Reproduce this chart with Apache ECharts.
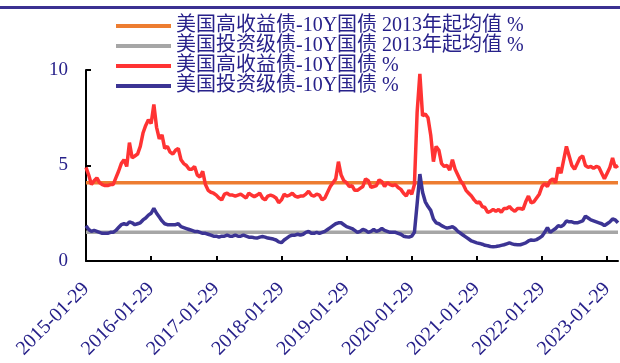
<!DOCTYPE html>
<html>
<head>
<meta charset="utf-8">
<script src="https://cdn.jsdelivr.net/npm/echarts@6/dist/echarts.min.js"></script>
<style>
  html, body { margin: 0; padding: 0; background: #fff; }
  #chart { width: 620px; height: 363px; }
</style>
</head>
<body>
<div id="chart"></div>
<script>
// 半月一个点，从 2015-01-29 起
const seriesNames = [
  '美国高收益债-10Y国债 2013年起均值 %',
  '美国投资级债-10Y国债 2013年起均值 %',
  '美国高收益债-10Y国债 %',
  '美国投资级债-10Y国债 %'
]

const hyAvg = 4.1
const igAvg = 1.5

const hyData = [
  4.9, 4.5, 4.0, 4.2, 4.35, 4.1, 4.0, 3.95, 3.95, 4.0,
  4.0, 4.35, 4.7, 5.1, 5.3, 4.95, 6.2, 5.4, 5.5, 5.6,
  6.0, 6.7, 7.1, 7.4, 7.2, 8.2, 7.0, 6.4, 6.6, 5.9,
  6.0, 5.7, 5.6, 5.8, 5.9, 5.3, 5.1, 5.0, 4.8, 4.8,
  4.95, 4.5, 4.4, 4.7, 4.0, 3.7, 3.6, 3.55, 3.45, 3.3,
  3.2, 3.5, 3.55, 3.45, 3.45, 3.4, 3.45, 3.5, 3.4, 3.3,
  3.55, 3.45, 3.37, 3.45, 3.55, 3.3, 3.2, 3.4, 3.45, 3.4,
  3.3, 3.05, 3.2, 3.5, 3.4, 3.45, 3.55, 3.4, 3.35, 3.4,
  3.4, 3.5, 3.65, 3.45, 3.4, 3.5, 3.45, 3.2, 3.3, 3.6,
  3.9, 4.1, 4.3, 5.2, 4.5, 4.2, 4.1, 3.9, 3.95, 3.7,
  3.7, 3.8, 3.9, 4.3, 4.2, 3.85, 3.9, 3.95, 4.25, 4.15,
  3.9, 4.1, 4.0, 3.95, 4.0, 3.85, 3.75, 3.55, 3.4, 3.7,
  3.5, 4.0, 7.8, 9.8, 7.6, 7.7, 7.5, 6.6, 5.2, 6.0,
  5.8, 5.1, 4.95, 5.0, 4.76, 5.3, 4.8, 4.5, 4.2, 4.0,
  3.7, 3.55, 3.4, 3.2, 3.05, 3.1, 2.85, 2.8, 2.55, 2.6,
  2.7, 2.6, 2.7, 2.55, 2.75, 2.75, 2.85, 2.7, 2.6, 2.75,
  2.75, 2.7, 3.1, 3.4, 3.05, 3.1, 3.3, 3.5, 3.9, 4.05,
  3.9, 4.2, 4.3, 4.1, 4.9, 4.6, 5.3, 6.0, 5.5, 5.0,
  4.8, 5.1, 5.4, 5.5, 5.0, 4.9, 4.95, 4.85, 4.95, 4.9,
  4.6, 4.3, 4.6, 4.9, 5.4, 4.9, 5.0
]

const igData = [
  1.85, 1.65, 1.55, 1.6, 1.55, 1.5, 1.45, 1.45, 1.45, 1.5,
  1.5, 1.6, 1.75, 1.9, 1.95, 1.9, 2.05, 2.0, 1.9, 1.95,
  2.0, 2.15, 2.25, 2.4, 2.5, 2.75, 2.5, 2.3, 2.1, 1.95,
  1.9, 1.9, 1.9, 1.9, 1.95, 1.8, 1.75, 1.7, 1.65, 1.6,
  1.55, 1.55, 1.5, 1.45, 1.45, 1.4, 1.35, 1.3, 1.3, 1.25,
  1.3, 1.3, 1.35, 1.3, 1.3, 1.35, 1.3, 1.3, 1.35, 1.3,
  1.25, 1.25, 1.22, 1.2, 1.25, 1.28, 1.25, 1.2, 1.18, 1.15,
  1.1, 1.0, 0.96, 1.1, 1.2, 1.3, 1.35, 1.35, 1.4, 1.35,
  1.4, 1.5, 1.55, 1.45, 1.45, 1.5, 1.45, 1.5, 1.55, 1.65,
  1.75, 1.85, 1.95, 2.0, 2.0, 1.9, 1.8, 1.75, 1.7, 1.6,
  1.5, 1.55, 1.65, 1.6, 1.5, 1.55, 1.65, 1.55, 1.6, 1.7,
  1.6, 1.55, 1.5, 1.5, 1.5, 1.45, 1.4, 1.3, 1.27, 1.25,
  1.3, 1.5, 3.0, 4.55, 3.6, 3.1, 2.85, 2.65, 2.2, 2.0,
  1.95, 1.85, 1.78, 1.72, 1.75, 1.8, 1.7, 1.55, 1.45, 1.35,
  1.25, 1.15, 1.05, 1.0, 0.95, 0.92, 0.88, 0.82, 0.8, 0.76,
  0.75, 0.76, 0.78, 0.82, 0.85, 0.9, 0.95, 0.9, 0.86, 0.85,
  0.85, 0.9, 0.95, 1.05, 1.1, 1.08, 1.12, 1.2, 1.3, 1.5,
  1.75, 1.5, 1.6, 1.7, 1.85, 1.8, 1.9, 2.1, 2.05, 2.05,
  2.0, 2.0, 2.05, 2.1, 2.35, 2.25, 2.15, 2.1, 2.05, 2.0,
  1.95, 1.85, 1.95, 2.05, 2.2, 2.15, 2.0
]

const yTicks = [0, 5, 10]

// 日期类目
const pad = (n) => (n < 10 ? '0' + n : '' + n)
const dates = hyData.map((v, i) => {
  const d = new Date(2015, 0, 29 + Math.round((i * 365.25) / 24))
  return d.getFullYear() + '-' + pad(d.getMonth() + 1) + '-' + pad(d.getDate())
})

const textColor = '#27218a'
const fontFamily = "'Liberation Serif', 'Noto Sans CJK SC', serif"

const chart = echarts.init(document.getElementById('chart'))

const option = {
  animation: false,
  backgroundColor: '#fff',
  graphic: [
    {
      type: 'rect',
      shape: { x: 0, y: 6, width: 620, height: 3 },
      style: { fill: '#3b3192' },
      silent: true
    }
  ],
  legend: {
    orient: 'vertical',
    left: 111,
    top: 11,
    icon: 'rect',
    itemWidth: 55,
    itemHeight: 4,
    itemGap: 0,
    data: seriesNames,
    textStyle: {
      color: textColor,
      fontFamily: fontFamily,
      fontSize: 20,
      lineHeight: 20
    }
  },
  grid: {
    left: 86,
    right: 2,
    top: 70,
    bottom: 102
  },
  xAxis: {
    type: 'category',
    boundaryGap: false,
    data: dates,
    axisLine: { lineStyle: { color: '#000', width: 2 } },
    axisTick: {
      inside: true,
      length: 5,
      interval: 23,
      lineStyle: { color: '#000', width: 2 }
    },
    axisLabel: {
      interval: 23,
      rotate: 45,
      margin: 25,
      color: textColor,
      fontFamily: fontFamily,
      fontSize: 20
    },
    splitLine: { show: false }
  },
  yAxis: {
    type: 'value',
    min: yTicks[0],
    max: yTicks[yTicks.length - 1],
    interval: 5,
    axisLine: { show: true, lineStyle: { color: '#000', width: 2 } },
    axisTick: {
      show: true,
      inside: true,
      length: 5,
      lineStyle: { color: '#000', width: 2 }
    },
    axisLabel: {
      margin: 18,
      color: textColor,
      fontFamily: fontFamily,
      fontSize: 19
    },
    splitLine: { show: false }
  },
  series: [
    {
      name: seriesNames[0],
      type: 'line',
      data: hyData.map(() => hyAvg),
      showSymbol: false,
      lineStyle: { color: '#ed7d31', width: 3.5 },
      itemStyle: { color: '#ed7d31' }
    },
    {
      name: seriesNames[1],
      type: 'line',
      data: igData.map(() => igAvg),
      showSymbol: false,
      lineStyle: { color: '#a6a6a6', width: 3.5 },
      itemStyle: { color: '#a6a6a6' }
    },
    {
      name: seriesNames[2],
      type: 'line',
      data: hyData,
      showSymbol: false,
      lineStyle: { color: '#ff3333', width: 3.5 },
      itemStyle: { color: '#ff3333' }
    },
    {
      name: seriesNames[3],
      type: 'line',
      data: igData,
      showSymbol: false,
      lineStyle: { color: '#3c3494', width: 3.5 },
      itemStyle: { color: '#3c3494' }
    }
  ]
}

chart.setOption(option)
</script>
</body>
</html>
